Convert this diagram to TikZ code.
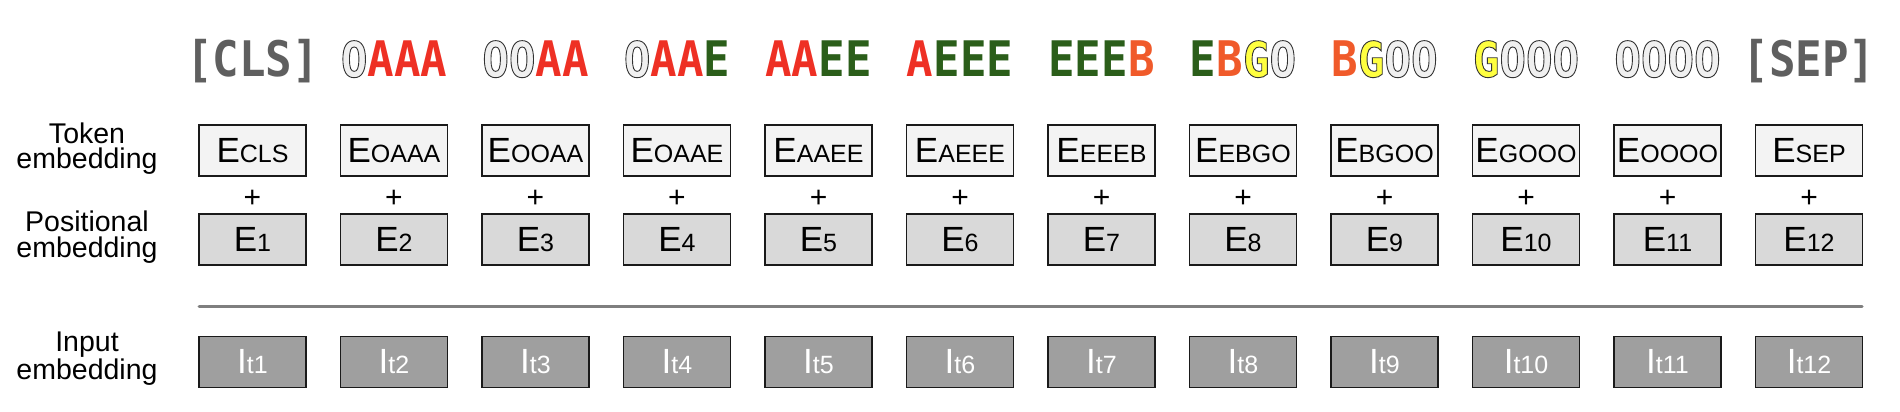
\documentclass[tikz,border=0pt]{standalone}
\usepackage{fontspec}
\setmainfont{Liberation Sans}
\newfontfamily\tokfont{DejaVu Sans Mono}[FakeStretch=0.9]
\definecolor{cred}{HTML}{EE3024}
\definecolor{cgreen}{HTML}{2B5E1A}
\definecolor{corange}{HTML}{F05A2A}
\definecolor{cyellow}{HTML}{FFFF40}
\definecolor{czero}{HTML}{F0F0F0}
\definecolor{cbrack}{HTML}{5F5F5F}
\definecolor{tokfill}{HTML}{F3F3F3}
\definecolor{posfill}{HTML}{D9D9D9}
\definecolor{inpfill}{HTML}{9F9F9F}
\definecolor{rulegray}{HTML}{7F7F7F}
\definecolor{boxline}{HTML}{1A1A1A}
\newcommand\outl[2]{{\color{#1}\special{pdf:literal direct 0.2 G 0.9 w 2 Tr}#2\special{pdf:literal direct 0 Tr}}}
\newcommand\tkA{\textcolor{cred}{A}}
\newcommand\tkE{\textcolor{cgreen}{E}}
\newcommand\tkB{\textcolor{corange}{B}}
\newcommand\tkG{\outl{cyellow}{G}}
\newcommand\tkZ{\outl{czero}{O}}
\newcommand\sub[1]{{\fontsize{25}{25}\selectfont #1}}
\begin{document}
\begin{tikzpicture}[x=1pt,y=-1pt,
  emb/.style={draw=boxline, line width=1.3pt, minimum width=107pt, minimum height=51pt, inner sep=0pt, font=\fontsize{35}{35}\selectfont},
  tokbox/.style={emb, fill=tokfill},
  posbox/.style={emb, fill=posfill},
  inpbox/.style={emb, fill=inpfill, text=white},
  lbl/.style={align=center, inner sep=0pt, font=\fontsize{28.5}{25.5}\selectfont},
  plussign/.style={inner sep=0pt, font=\fontsize{30}{30}\selectfont},
  toptxt/.style={anchor=base, inner sep=0pt, font=\tokfont\bfseries\fontsize{49}{49}\selectfont},
  rule/.style={draw=rulegray, line width=3pt, line cap=round}]
\useasboundingbox (0,0) rectangle (1900,412);
\foreach \i/\top/\s in {
  1/{\textcolor{cbrack}{[CLS]}}/CLS,
  2/{\tkZ\tkA\tkA\tkA}/OAAA,
  3/{\tkZ\tkZ\tkA\tkA}/OOAA,
  4/{\tkZ\tkA\tkA\tkE}/OAAE,
  5/{\tkA\tkA\tkE\tkE}/AAEE,
  6/{\tkA\tkE\tkE\tkE}/AEEE,
  7/{\tkE\tkE\tkE\tkB}/EEEB,
  8/{\tkE\tkB\tkG\tkZ}/EBGO,
  9/{\tkB\tkG\tkZ\tkZ}/BGOO,
  10/{\tkG\tkZ\tkZ\tkZ}/GOOO,
  11/{\tkZ\tkZ\tkZ\tkZ}/OOOO,
  12/{\textcolor{cbrack}{[SEP]}}/SEP}{
  \pgfmathsetmacro\cx{252.5+141.5*(\i-1)}
  \node[toptxt] (top\i) at (\cx,77) {\top};
  \node[tokbox] (t\i) at (\cx,150.5) {E\sub{\s}};
  \node[plussign] (plus\i) at (\cx,199) {+};
  \node[posbox] (p\i) at (\cx,239.5) {E\sub{\i}};
  \node[inpbox] (in\i) at (\cx,362) {I\sub{t\i}};
}
\node[lbl] (ltok) at (87,148.5) {Token\\embedding};
\node[lbl] (lpos) at (87,237) {Positional\\embedding};
\node[lbl] (linp) at (87,358.5) {Input\\embedding};
\coordinate (L0) at (199,306);
\coordinate (L1) at (1862,306);
\draw[rule] (L0) -- (L1);
\end{tikzpicture}
\end{document}
